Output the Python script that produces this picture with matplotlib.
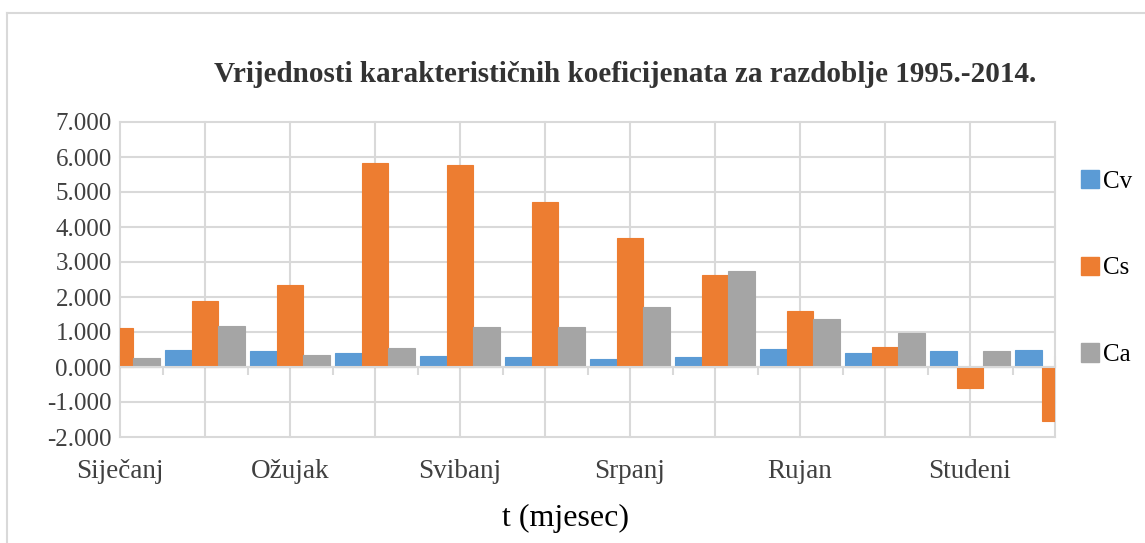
import numpy as np
import matplotlib
matplotlib.use("Agg")
import matplotlib.pyplot as plt
from matplotlib.patches import Patch
from matplotlib.lines import Line2D

months = ['Siječanj', 'Veljača', 'Ožujak', 'Travanj', 'Svibanj', 'Lipanj',
          'Srpanj', 'Kolovoz', 'Rujan', 'Listopad', 'Studeni', 'Prosinac']
cv = [0.25, 0.50, 0.47, 0.39, 0.31, 0.29, 0.22, 0.28, 0.51, 0.39, 0.46, 0.49]
cs = [1.11, 1.89, 2.33, 5.82, 5.76, 4.72, 3.68, 2.63, 1.59, 0.56, -0.59, -1.54]
ca = [0.25, 1.18, 0.35, 0.53, 1.15, 1.14, 1.71, 2.75, 1.36, 0.96, 0.47, 0.30]
series = ['Cv', 'Cs', 'Ca']
colors = ['#5B9BD5', '#ED7D31', '#A5A5A5']

plt.rcParams['font.family'] = ['Liberation Serif', 'DejaVu Serif']
grid_c = '#D9D9D9'
txt_c = '#404040'

fig = plt.figure(figsize=(11.45, 5.43), dpi=100)
ax = fig.add_axes([120/1145, 1-437/543, 935/1145, 315/543])

x = np.arange(len(months))
w = 0.314
for i, (vals, col) in enumerate(zip([cv, cs, ca], colors)):
    ax.bar(x + (i-1)*w, vals, width=w, color=col, edgecolor=col,
           linewidth=0.8, zorder=3)

ax.set_xlim(0, len(months)-1)
ax.set_ylim(-2, 7)
ax.set_yticks(np.arange(-2, 8, 1))
ax.yaxis.set_major_formatter(matplotlib.ticker.FormatStrFormatter('%.3f'))
ax.tick_params(axis='y', length=0, pad=6, labelsize=18, labelcolor=txt_c)

# category axis sits on the zero line
ax.spines['bottom'].set_position(('data', 0))
ax.spines['bottom'].set_color(grid_c)
ax.spines['bottom'].set_linewidth(1.5)
ax.spines['bottom'].set_zorder(4)
for s in ['top', 'left', 'right']:
    ax.spines[s].set_visible(False)
ax.set_xticks(x)
ax.set_xticks(x[:-1] + 0.5, minor=True)
ax.tick_params(axis='x', which='major', direction='in', length=8,
               width=1.5, color=grid_c, labelbottom=False)
ax.tick_params(axis='x', which='minor', direction='out', length=6,
               width=1.5, color=grid_c)

ax.grid(True, color=grid_c, linewidth=1.5, zorder=0)
ax.set_axisbelow(True)
for l in ax.get_xgridlines() + ax.get_ygridlines():
    l.set_clip_on(False)

# month labels at the bottom of the plot area
sec = ax.secondary_xaxis('bottom')
sec.set_xticks(x[::2])
sec.set_xticklabels(months[::2])
sec.tick_params(length=0, pad=16, labelsize=19.5, labelcolor=txt_c)
sec.spines['bottom'].set_visible(False)

fig.text(565/1145, 1-518/543, 't (mjesec)', ha='center', va='center',
         fontsize=23, color='black')

fig.text(625/1145, 1-75/543,
         'Vrijednosti karakterističnih koeficijenata za razdoblje 1995.-2014.',
         ha='center', va='center', fontsize=21, fontweight='bold', color='#333333')

handles = [Patch(facecolor=c, edgecolor=c, label=s) for s, c in zip(series, colors)]
fig.legend(handles=handles, loc='center left', bbox_to_anchor=(1068/1145, 1-268/543),
           frameon=False, fontsize=18, handlelength=0.75, handleheight=0.75,
           handletextpad=0.15, labelspacing=2.55, borderpad=0)

# outer chart border
fig.add_artist(Line2D([7/1145, 1], [1-13/543, 1-13/543], color=grid_c, lw=1.5))
fig.add_artist(Line2D([7/1145, 7/1145], [0, 1-13/543], color=grid_c, lw=1.5))

fig.savefig('out.png', dpi=100)
